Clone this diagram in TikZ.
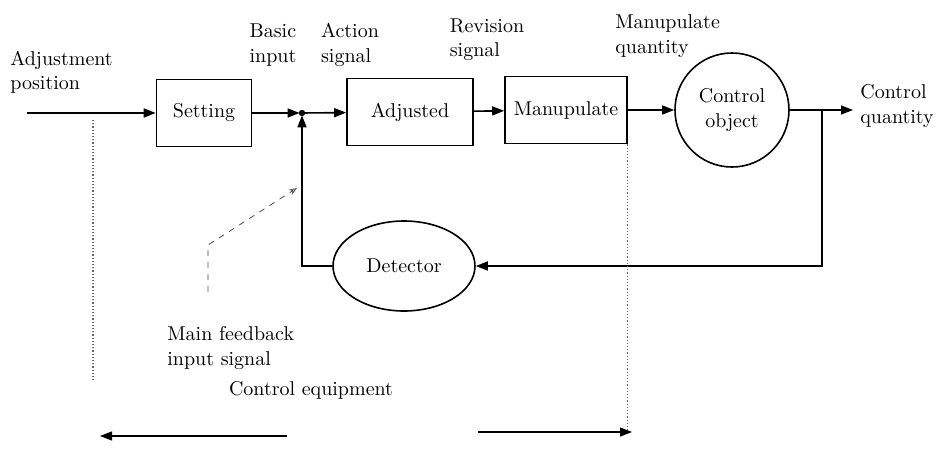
\documentclass[tikz,border=0pt]{standalone}
\usetikzlibrary{arrows.meta,shapes.geometric}
\begin{document}
\begin{tikzpicture}[x = 0.5pt, y = -0.5pt,
  font = \fontsize{10}{12.2}\selectfont,
  blockbox/.style = {draw, black, line width = 0.8pt, inner sep = 0pt, minimum height = 33.5pt},
  flow/.style = {black, line width = 0.8pt, -{Triangle[length = 6pt, width = 4.5pt]}},
  guide/.style = {black!60, densely dotted, line width = 0.6pt},
  note/.style = {black!70, dashed, line width = 0.4pt},
  label/.style = {align = left, inner sep = 1pt}]

\useasboundingbox (0, 0) rectangle (938, 450);

% blocks
\node[blockbox, minimum width = 47.5pt] (setting)  at (204, 113) {Setting};
\node[blockbox, minimum width = 63pt]   (adjusted) at (410, 112) {Adjusted};
\node[blockbox, minimum width = 61pt]   (manip)    at (566, 110) {Manupulate};
\node[draw, circle, line width = 0.8pt, minimum size = 57pt, inner sep = 0pt, align = center]
      (object) at (732, 110) {Control\\object};
\node[draw, ellipse, line width = 0.8pt, minimum width = 71pt, minimum height = 45pt, inner sep = 0pt]
      (detector) at (404, 266) {Detector};

\coordinate (start)  at (27, 113);
\coordinate (sum)    at (302, 113);
\coordinate (branch) at (822, 110);
\coordinate (out)    at (853, 110);

% labels
\node[label, anchor = west] (adjpos)   at (8, 72)    {Adjustment\\position};
\node[label]                (basic)    at (273, 45)  {Basic\\input};
\node[label]                (action)   at (350, 45)  {Action\\signal};
\node[label]                (revision) at (487, 40)  {Revision\\signal};
\node[label, anchor = west] (manqty)   at (613, 36)  {Manupulate\\quantity};
\node[label, anchor = west] (ctrlqty)  at (858, 106) {Control\\quantity};
\node[label, anchor = west] (fbnote)   at (165, 348) {Main feedback\\input signal};
\node[label]                (equip)    at (311, 390) {Control equipment};

% forward path
\draw[flow] (start) -- (setting);
\draw[flow, shorten > = 1.2pt] (setting) -- (sum);
\draw[flow] (sum) -- (adjusted);
\draw[flow] (adjusted) -- (manip);
\draw[flow] (manip) -- (object);
\draw[flow] (object) -- (out);
\fill[black] (sum) circle (1.6pt);

% feedback path
\draw[flow] (branch) |- (detector);
\draw[flow, shorten > = 1.2pt] (detector) -| (sum);

% note arrow
\coordinate (notetop) at (208, 292);
\coordinate (kink)    at (208, 245);
\coordinate (tip)     at (297, 188);
\draw[note, -{Stealth[length = 4pt, width = 3pt, open]}] (notetop) -- (kink) -- (tip);

% boundary of the control equipment
\coordinate (lstart) at (287, 436);
\coordinate (lend)   at (100, 436);
\coordinate (rstart) at (478, 432);
\coordinate (rend)   at (632, 432);
\draw[guide] (93, 120) -- (93, 380);
\draw[guide] (manip.south east) -- (manip.south east |- rend);
\draw[flow, line width = 0.6pt] (lstart) -- (lend);
\draw[flow, line width = 0.6pt] (rstart) -- (rend);

\end{tikzpicture}
\end{document}
